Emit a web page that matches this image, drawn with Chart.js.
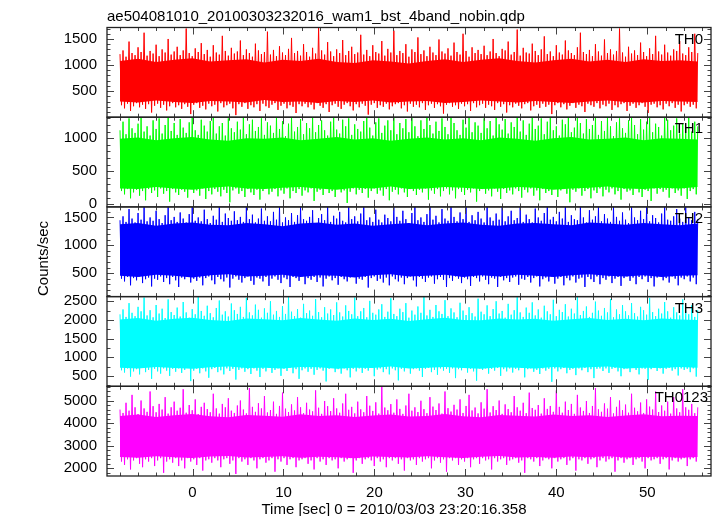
<!DOCTYPE html>
<html><head><meta charset="utf-8">
<script src="https://cdn.jsdelivr.net/npm/chart.js@4/dist/chart.umd.min.js"></script>
<style>html,body{margin:0;padding:0;background:#fff}#wrap{position:relative;width:717px;height:516px}</style>
</head><body><div id="wrap"><canvas id="c" width="717" height="516"></canvas></div>
<script>
const TITLE = "ae504081010_20100303232016_wam1_bst_4band_nobin.qdp";
const X_TITLE = "Time [sec] 0 = 2010/03/03 23:20:16.358";
const Y_TITLE = "Counts/sec";
const PANEL_LABELS = ["TH0", "TH1", "TH2", "TH3", "TH0123"];
const T_START = -7.97, T_STEP = 0.1654;   // light-curve bin start and width (sec)
const CORE_T_STEP = 1.985;                 // spacing of the dense-band envelope readings (sec)

const th0 = [1210,230,1280,170,1160,260,1450,120,1230,210,1190,270,1340,190,1250,240,1620,160,1180,250,
1270,90,1220,220,1390,260,1170,180,1300,240,1240,130,1500,210,1200,270,1260,190,1350,230,
1190,160,1280,250,1700,200,1230,60,1170,240,1320,270,1250,180,1420,220,1210,150,1290,260,
1160,210,1380,240,1240,110,1200,270,1560,190,1270,230,1180,260,1330,170,1220,40,1260,250,
1470,200,1190,270,1300,160,1230,230,1160,190,1410,250,1280,120,1210,260,1250,210,1640,180,
1200,240,1290,270,1170,140,1360,220,1240,260,1190,170,1310,230,1520,200,1230,80,1270,250,
1180,210,1400,260,1250,190,1160,240,1330,150,1220,270,1720,220,1280,180,1200,250,1440,100,
1260,230,1170,260,1300,200,1230,160,1480,240,1190,270,1270,210,1350,130,1210,250,1240,190,
1580,260,1200,220,1290,50,1170,240,1380,270,1250,180,1220,230,1460,200,1180,260,1310,150,
1240,210,1660,250,1190,270,1270,170,1230,230,1400,110,1160,260,1300,200,1250,240,1530,190,
1210,270,1280,140,1170,230,1350,260,1240,180,1190,250,1490,210,1260,70,1220,240,1320,270,
1180,200,1430,230,1250,160,1200,260,1600,210,1270,250,1160,120,1340,270,1230,190,1290,230,
1210,260,1370,180,1190,240,1260,210,1500,140,1230,270,1170,200,1310,250,1280,90,1450,230,
1200,190,1250,260,1680,220,1180,170,1330,250,1240,270,1220,130,1410,210,1270,240,1190,180,
1300,260,1550,200,1210,240,1260,60,1170,230,1380,270,1240,190,1200,250,1470,150,1280,220,
1230,270,1190,180,1340,240,1620,210,1250,100,1210,260,1290,230,1170,200,1400,270,1260,170,
1180,240,1490,210,1230,260,1300,140,1200,230,1270,190,1700,250,1240,270,1160,120,1350,220,
1220,260,1280,180,1190,230,1430,270,1250,200,1170,80,1320,240,1210,260,1560,190,1260,230,
1200,150,1390,260,1240,210,1180,270,1300,180,1270,240,1460,110,1220,230,1190,260,1340,200,
1250,240,1600,170,1230];

const th1 = [1120,200,1250,150,1060,230,1300,90,1150,180,1080,220,1220,130,1310,200,1100,60,1180,230,
1040,170,1270,210,1140,110,1300,240,1070,160,1200,200,1310,40,1110,230,1230,180,1050,140,
1290,220,1160,190,1080,100,1240,230,1310,170,1120,210,1050,130,1280,240,1190,80,1100,200,
1260,150,1310,230,1070,190,1180,120,1230,220,1040,170,1300,30,1150,210,1090,240,1250,160,
1130,200,1310,110,1060,230,1210,180,1280,140,1110,220,1170,70,1300,200,1050,240,1240,150,
1190,190,1080,230,1310,120,1140,210,1260,160,1030,240,1220,90,1310,200,1100,170,1170,230,
1290,130,1060,210,1230,180,1150,240,1310,50,1090,190,1200,220,1270,140,1120,230,1040,170,
1250,200,1310,110,1130,230,1070,180,1280,210,1180,20,1300,190,1050,240,1210,150,1140,220,
1100,170,1260,230,1310,100,1160,200,1040,240,1240,160,1300,210,1080,130,1190,230,1270,60,
1120,190,1310,220,1060,150,1230,240,1150,180,1290,110,1090,230,1310,200,1180,140,1030,220,
1270,180,1140,240,1310,70,1200,210,1070,160,1250,230,1110,120,1300,200,1170,240,1060,150,
1310,210,1230,90,1120,230,1050,190,1280,140,1160,220,1310,180,1090,240,1240,40,1190,200,
1080,230,1300,160,1150,210,1260,120,1040,240,1310,190,1210,80,1130,230,1290,170,1070,210,
1240,150,1170,240,1310,200,1100,100,1270,220,1050,180,1220,240,1310,130,1140,210,1190,60,
1300,230,1060,170,1250,200,1310,140,1120,240,1180,110,1040,210,1280,230,1210,160,1310,30,
1090,220,1160,190,1310,240,1230,130,1070,200,1290,230,1140,90,1200,210,1310,170,1050,240,
1260,120,1110,220,1310,180,1180,240,1030,150,1240,200,1300,70,1150,230,1080,190,1270,210,
1310,140,1200,240,1060,180,1290,110,1130,220,1250,200,1310,50,1090,240,1220,160,1170,230,
1040,190,1310,220,1280,100,1120,240,1190,170,1300,210,1070,130,1230,240,1160,80,1310,200,
1100,230,1250,150,1180];

const th2 = [1450,400,1520,350,1420,430,1650,280,1480,410,1410,370,1580,440,1460,320,1690,390,1430,420,
1500,260,1440,400,1620,380,1470,440,1400,340,1540,410,1690,300,1450,430,1510,370,1420,250,
1590,420,1480,390,1410,440,1560,330,1690,400,1440,360,1500,420,1430,280,1640,410,1470,440,
1400,370,1530,300,1460,430,1690,390,1420,350,1570,420,1490,240,1440,400,1610,440,1450,380,
1510,330,1420,410,1690,440,1470,360,1550,290,1410,420,1480,400,1660,350,1440,430,1520,270,
1430,400,1600,440,1460,380,1690,320,1410,420,1500,390,1450,250,1580,430,1420,410,1540,360,
1690,440,1470,300,1440,410,1510,380,1630,430,1400,340,1490,420,1560,260,1450,400,1690,440,
1420,370,1530,410,1480,290,1600,430,1440,390,1410,350,1690,420,1470,440,1520,310,1430,400,
1570,380,1690,430,1450,240,1500,410,1420,440,1640,360,1460,400,1410,330,1550,420,1490,280,
1430,440,1690,390,1510,350,1440,420,1620,300,1470,410,1400,440,1580,370,1690,260,1450,430,
1500,400,1420,340,1560,420,1690,440,1460,310,1530,390,1410,430,1650,380,1480,250,1440,410,
1690,360,1510,440,1430,400,1590,320,1470,420,1690,390,1420,270,1540,430,1450,410,1600,350,
1480,440,1410,380,1690,300,1500,420,1440,400,1570,250,1460,430,1690,370,1430,410,1520,340,
1620,420,1450,440,1490,290,1690,400,1420,380,1550,430,1470,330,1410,410,1660,440,1500,260,
1440,390,1580,420,1690,350,1460,440,1510,310,1430,400,1600,430,1480,280,1690,410,1420,370,
1540,440,1470,330,1450,400,1690,420,1500,250,1410,430,1630,390,1460,340,1520,440,1690,300,
1430,410,1560,380,1480,440,1420,320,1690,400,1510,430,1440,270,1590,410,1460,440,1400,360,
1690,420,1500,300,1450,430,1620,390,1470,440,1690,340,1430,410,1540,260,1490,420,1410,440,
1570,370,1690,410,1460,330,1440,440,1520,400,1650,280,1480,420,1420,390,1690,440,1500,350,
1450,420,1600,300,1470];

const th3 = [2150,650,2280,590,2080,700,2450,480,2190,620,2100,680,2350,540,2230,710,2600,600,2120,660,
2260,420,2070,690,2400,620,2170,560,2300,700,2050,640,2550,500,2210,690,2130,610,2330,700,
2090,580,2480,660,2200,710,2060,360,2290,640,2150,690,2620,570,2240,700,2110,620,2380,450,
2180,680,2070,710,2320,600,2520,650,2140,540,2230,700,2090,630,2440,690,2260,400,2160,660,
2350,700,2080,610,2590,680,2200,550,2120,700,2410,640,2270,470,2060,690,2310,620,2190,710,
2500,580,2140,660,2240,700,2080,500,2370,690,2160,630,2620,710,2220,570,2100,680,2290,420,
2060,650,2430,700,2180,610,2250,690,2110,530,2560,660,2210,700,2070,640,2340,350,2170,690,
2280,710,2130,600,2470,680,2200,560,2090,700,2390,650,2240,460,2150,690,2600,620,2100,700,
2230,580,2320,690,2070,640,2510,710,2190,490,2140,670,2280,700,2420,600,2080,680,2220,540,
2580,700,2160,650,2100,380,2300,690,2210,620,2450,710,2060,560,2250,680,2140,700,2360,640,
2190,470,2620,690,2120,710,2270,600,2080,660,2400,530,2230,700,2160,640,2530,690,2100,580,
2310,700,2200,440,2070,680,2460,650,2250,710,2130,590,2340,690,2180,620,2090,370,2570,700,
2220,660,2150,700,2390,560,2100,690,2290,640,2500,710,2170,500,2240,680,2060,620,2430,700,
2140,590,2260,690,2610,650,2200,710,2080,460,2330,680,2190,700,2470,610,2120,660,2280,550,
2060,700,2380,640,2230,690,2150,340,2540,700,2100,620,2270,680,2210,710,2420,570,2090,660,
2300,690,2170,520,2620,700,2130,650,2240,710,2360,600,2080,680,2190,440,2490,690,2250,700,
2110,630,2320,700,2200,580,2560,690,2070,710,2280,620,2150,490,2400,680,2230,700,2120,600,
2450,710,2180,660,2090,540,2350,700,2260,690,2140,390,2590,680,2210,710,2100,630,2300,700,
2170,560,2480,690,2230,710,2060,640,2340,680,2200,510,2120,700,2550,660,2250,690,2150,600,
2390,700,2080,480,2270];

const th0123 = [4600,2300,4450,2150,4900,2400,4550,1950,5250,2350,4700,2450,4400,2200,5000,2050,4650,2400,4500,2300,
5400,2450,4750,2100,4480,2350,4850,2450,4600,1800,5150,2300,4420,2400,4700,2250,4950,2450,4550,2100,
4680,2350,5500,2000,4460,2450,4800,2300,4570,2400,5050,2150,4400,2450,4720,1900,4900,2350,4620,2400,
4480,2250,5300,2450,4650,2350,4420,2050,4850,2400,4700,2450,5100,2200,4550,2350,4450,1750,4780,2450,
5000,2300,4600,2400,4430,2150,5550,2450,4720,2350,4500,2000,4880,2400,4650,2450,5200,2250,4470,2350,
4580,2450,4950,1850,4410,2400,4760,2300,5350,2450,4640,2150,4490,2400,4830,2450,4560,2050,5150,2350,
4700,2400,4440,2450,4900,2200,4600,2350,4520,1950,5450,2450,4680,2300,4410,2400,4980,2150,4750,2450,
4530,2350,5100,2400,4650,2000,4460,2450,4870,2300,5300,2400,4590,2450,4720,1800,4430,2350,4950,2450,
4610,2200,4480,2400,5200,2450,4770,2350,4540,2100,4920,2450,4420,2300,5600,2400,4690,2050,4570,2450,
4840,2350,4460,2450,5050,2200,4630,2400,4410,1900,4780,2450,5300,2350,4550,2400,4700,2150,4490,2450,
4990,2300,4620,2400,4440,2450,5150,2000,4730,2350,4580,2450,4870,2250,4420,2400,5400,1850,4660,2450,
4510,2350,4810,2450,4600,2150,5050,2400,4450,2300,4760,2450,5250,2050,4560,2400,4690,2450,4430,2200,
4920,2450,4640,2350,5500,2400,4470,1950,4750,2450,4580,2300,5000,2400,4410,2450,4830,2150,4620,2350,
4480,2400,5200,2450,4700,2250,4550,2350,4900,1800,4440,2450,5350,2400,4670,2300,4590,2450,4800,2100,
4420,2350,5100,2450,4630,2400,4760,2000,4500,2450,5450,2300,4720,2400,4460,2450,4950,2150,4580,2350,
4850,2450,4410,1900,5250,2400,4690,2350,4540,2450,4980,2200,4450,2400,4760,2450,5550,2050,4610,2350,
4500,2450,4870,2300,4640,2400,5150,2450,4430,1850,4720,2350,5000,2450,4570,2250,4820,2400,4460,2450,
5300,2150,4680,2400,4520,2450,4910,2300,4450,2000,5050,2450,4730,2350,4600,2400,5400,2450,4490,2200,
4780,2400,4550,2450,4950,1950,4420,2350,5150,2450,4650,2300,4480,2400,5500,2450,4700,2100,4590,2400,
4850,2450,4440,2300,4700];

// upper / lower edge of the dense (solid) part of each band, read every ~2 s
const th0CoreHi = [1080,1120,1060,1100,1130,1070,1090,1110,1050,1100,1080,1120,1060,1040,1090,1070,1030,1080,1110,1060,1100,1130,1080,1050,1090,1120,1070,1100,1060,1110,1080,1090,1070];
const th0CoreLo = [300,280,320,290,270,310,300,280,330,290,300,270,310,290,320,280,300,310,270,290,320,300,280,310,290,270,300,320,290,280,310,300,290];
const th1CoreHi = [990,1010,970,1000,1020,980,960,1000,990,1010,970,990,1020,980,1000,960,990,1010,980,1000,970,1010,990,960,1000,1020,980,990,1010,970,1000,990,980];
const th1CoreLo = [240,230,260,240,220,250,270,240,230,250,260,240,220,250,240,270,230,240,260,250,230,240,260,250,220,240,250,270,240,230,250,240,260];
const th2CoreHi = [1380,1400,1350,1390,1410,1370,1360,1400,1380,1340,1390,1410,1370,1390,1350,1380,1400,1360,1390,1410,1370,1350,1390,1400,1380,1360,1410,1390,1370,1400,1380,1360,1390];
const th2CoreLo = [450,430,470,450,420,460,480,440,450,470,430,460,450,420,460,480,440,450,470,430,460,440,470,450,430,460,480,450,440,460,430,450,460];
const th3CoreHi = [2010,2050,1980,2030,2060,2000,1970,2040,2020,1990,2050,2010,1980,2040,2000,2030,1970,2020,2060,2000,1990,2040,2010,2030,1980,2020,2050,2000,2030,1990,2040,2010,2000];
const th3CoreLo = [720,700,740,710,690,730,750,710,720,700,740,730,690,720,710,750,700,720,740,710,690,730,720,700,740,710,730,750,700,720,710,740,720];
const th0123CoreHi = [4320,4380,4270,4350,4400,4300,4260,4360,4330,4280,4390,4310,4350,4270,4340,4380,4290,4320,4400,4300,4260,4360,4330,4290,4380,4310,4350,4270,4340,4390,4300,4330,4310];
const th0123CoreLo = [2500,2470,2530,2490,2460,2520,2540,2480,2500,2530,2470,2510,2490,2450,2520,2500,2480,2530,2490,2460,2510,2540,2480,2500,2470,2520,2490,2530,2480,2500,2510,2470,2500];

const SERIES = [th0, th1, th2, th3, th0123];
const CORE_HI = [th0CoreHi, th1CoreHi, th2CoreHi, th3CoreHi, th0123CoreHi];
const CORE_LO = [th0CoreLo, th1CoreLo, th2CoreLo, th3CoreLo, th0123CoreLo];
const COLORS = ["#ff0000", "#00ff00", "#0000ff", "#00ffff", "#ff00ff"];
const X_TICKS = [0, 10, 20, 30, 40, 50];
const Y_TICKS = [[500,1000,1500],[0,500,1000],[500,1000,1500],[500,1000,1500,2000,2500],[2000,3000,4000,5000]];
const Y_MINOR = [100, 100, 100, 250, 200];
const Y_RANGES = [[0,1720],[-40,1318],[77,1690],[220,2625],[1660,5630]];
const X_RANGE = [-9.4, 57.0];

const FONT = "Liberation Sans, Arial, Helvetica, sans-serif";

const scales = {
  x: {
    type: 'linear', min: X_RANGE[0], max: X_RANGE[1],
    grid: {display: false, drawTicks: false}, border: {display: false},
    ticks: {padding: 8, color: '#000', font: {family: FONT, size: 15}, maxRotation: 0, autoSkip: false, callback: v => String(v)},
    afterBuildTicks: ax => { ax.ticks = X_TICKS.map(v => ({value: v})); },
    afterFit: ax => { ax.height = 40; }
  }
};
SERIES.forEach((s, i) => {
  scales['y' + i] = {
    type: 'linear', position: 'left', stack: 'panels', stackWeight: 1, weight: 10 - i,
    min: Y_RANGES[i][0], max: Y_RANGES[i][1],
    grid: {display: false, drawTicks: false}, border: {display: false},
    ticks: {padding: 10, color: '#000', font: {family: FONT, size: 15}, autoSkip: false, callback: v => String(v)},
    afterBuildTicks: ax => { ax.ticks = Y_TICKS[i].map(v => ({value: v})); },
    afterFit: ax => { ax.width = 107; }
  };
});

const datasets = [];
SERIES.forEach((s, i) => {
  datasets.push({
    label: PANEL_LABELS[i],
    data: s.map((v, k) => ({x: T_START + k * T_STEP, y: v})),
    yAxisID: 'y' + i,
    borderColor: COLORS[i],
    borderWidth: 1,
    borderJoinStyle: 'bevel',
    pointRadius: 0,
    tension: 0,
    fill: false,
    order: 0
  });
});
const lastT = T_START + (SERIES[0].length - 1) * T_STEP;
SERIES.forEach((s, i) => {
  const tOf = k => Math.min(T_START + k * CORE_T_STEP, lastT);
  datasets.push({
    label: PANEL_LABELS[i] + ' core',
    data: CORE_HI[i].map((v, k) => ({x: tOf(k), y: v})),
    yAxisID: 'y' + i,
    borderWidth: 0,
    pointRadius: 0,
    backgroundColor: COLORS[i],
    fill: '+1',
    order: 1
  });
  datasets.push({
    label: PANEL_LABELS[i] + ' core low',
    data: CORE_LO[i].map((v, k) => ({x: tOf(k), y: v})),
    yAxisID: 'y' + i,
    borderWidth: 0,
    pointRadius: 0,
    fill: false,
    order: 1
  });
});

const framePlugin = {
  id: 'frames',
  afterDatasetsDraw(chart) {
    const ctx = chart.ctx;
    const ca = chart.chartArea;
    const xs = chart.scales.x;
    ctx.save();
    SERIES.forEach((s, i) => {
      const ys = chart.scales['y' + i];
      const top = ys.top, bot = ys.bottom;
      ctx.strokeStyle = '#444';
      ctx.lineWidth = 1;
      for (let t = -8; t <= 56; t += 2) {
        const px = Math.round(xs.getPixelForValue(t)) + 0.5;
        const len = (t % 10 === 0) ? 7 : 3.5;
        ctx.beginPath();
        ctx.moveTo(px, top); ctx.lineTo(px, top + len);
        ctx.moveTo(px, bot); ctx.lineTo(px, bot - len);
        ctx.stroke();
      }
      const [mn, mx] = Y_RANGES[i];
      const step = Y_MINOR[i];
      for (let v = Math.ceil(mn / step) * step; v <= mx; v += step) {
        const py = Math.round(ys.getPixelForValue(v)) + 0.5;
        const major = Y_TICKS[i].includes(v) || (i < 4 ? v % 500 === 0 : v % 1000 === 0);
        const len = major ? 7 : 3.5;
        ctx.beginPath();
        ctx.moveTo(ca.left, py); ctx.lineTo(ca.left + len, py);
        ctx.moveTo(ca.right, py); ctx.lineTo(ca.right - len, py);
        ctx.stroke();
      }
      ctx.strokeStyle = '#222';
      ctx.lineWidth = 1.3;
      ctx.strokeRect(ca.left, top, ca.right - ca.left, bot - top);
      ctx.fillStyle = '#000';
      ctx.font = '15px ' + FONT;
      ctx.textAlign = 'right';
      ctx.textBaseline = 'alphabetic';
      ctx.fillText(PANEL_LABELS[i], ca.right - (PANEL_LABELS[i].length > 3 ? 3 : 8), top + 16);
    });
    ctx.fillStyle = '#000';
    ctx.font = '15px ' + FONT;
    ctx.textAlign = 'left';
    ctx.textBaseline = 'alphabetic';
    ctx.fillText(TITLE, ca.left, 20.5);
    ctx.textAlign = 'center';
    ctx.fillText(X_TITLE, 394, 513.5);
    ctx.translate(47.5, 258.5);
    ctx.rotate(-Math.PI / 2);
    ctx.fillText(Y_TITLE, 0, 0);
    ctx.restore();
  }
};

new Chart(document.getElementById('c'), {
  type: 'line',
  data: {datasets},
  options: {
    responsive: false,
    animation: false,
    events: [],
    layout: {padding: {top: 27.5, right: 6, bottom: 0, left: 0}},
    plugins: {legend: {display: false}, title: {display: false}, tooltip: {enabled: false}},
    scales
  },
  plugins: [framePlugin]
});
</script></body></html>
